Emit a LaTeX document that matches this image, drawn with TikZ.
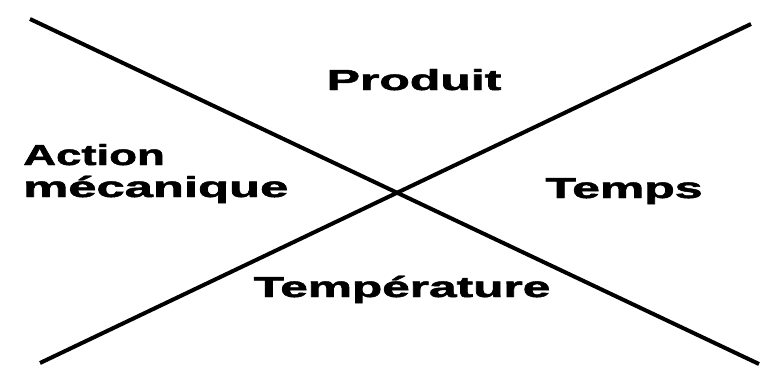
\documentclass[tikz,border=0pt]{standalone}
\usepackage{fontspec}
\setmainfont{Liberation Sans}
\newfontfamily\heavyfont[FakeBold=1.6]{Liberation Sans Bold}
\usepackage{graphicx}
\begin{document}
\begin{tikzpicture}[x=1pt,y=-1pt,
  lbl/.style={inner sep=0pt,font=\fontsize{29}{33}\heavyfont},
  xline/.style={line width=4pt,black}]
\useasboundingbox[fill=white] (0,0) rectangle (769,376);
\coordinate (a1) at (30,19);
\coordinate (a2) at (759,364);
\coordinate (b1) at (40,363);
\coordinate (b2) at (751,24);
\draw[xline] (a1) -- (a2);
\draw[xline] (b1) -- (b2);
\node[lbl,anchor=base] (produit) at (414,90) {\scalebox{1.72}[1]{Produit}};
\node[lbl,anchor=base] (temps) at (624,198) {\scalebox{1.72}[1]{Temps}};
\node[lbl,anchor=base] (temp) at (402,297) {\scalebox{1.71}[1]{Température}};
\node[lbl,anchor=base west] (action) at (23,165) {\scalebox{1.57}[1]{Action}};
\node[lbl,anchor=base west] (meca) at (23,197) {\scalebox{1.75}[1]{mécanique}};
\end{tikzpicture}
\end{document}
